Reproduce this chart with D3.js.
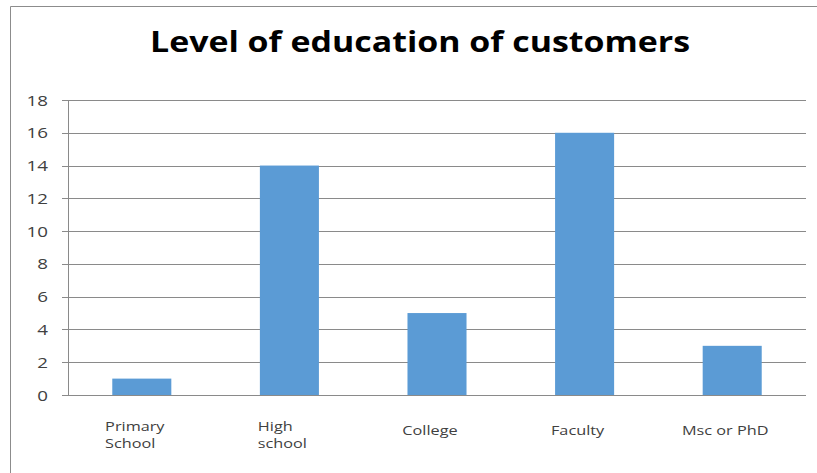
<!DOCTYPE html>
<html>
<head>
<meta charset="utf-8">
<script src="https://cdn.jsdelivr.net/npm/d3@7"></script>
<style>
  html, body { margin: 0; padding: 0; background: #fff; }
  svg { display: block; }
</style>
</head>
<body>
<svg id="chart" width="817" height="473"></svg>
<script>
// Chart data
const categories = ["Primary School", "High school", "College", "Faculty", "Msc or PhD"];
const categoryLabels = [["Primary", "School"], ["High", "school"], ["College"], ["Faculty"], ["Msc or PhD"]];
const customers = [1, 14, 5, 16, 3];
const yTicks = [0, 2, 4, 6, 8, 10, 12, 14, 16, 18];
const chartTitle = "Level of education of customers";

const W = 817, H = 473;
const plot = { left: 68, right: 806, top: 100, bottom: 395 };
const stretch = 1.25; // text is drawn slightly wide

const svg = d3.select("#chart");

// Outer frame (top and left edges)
svg.append("path")
  .attr("d", `M10.5,${H} V6.5 H${W}`)
  .attr("fill", "none")
  .attr("stroke", "#8c8c8c")
  .attr("stroke-width", 1);

const x = d3.scaleBand()
  .domain(categories)
  .range([plot.left, plot.right])
  .paddingInner(0.6)
  .paddingOuter(0.3);

const y = d3.scaleLinear()
  .domain([0, 18])
  .range([plot.bottom, plot.top]);

// Horizontal gridlines with small ticks to the left of the axis
svg.append("g")
  .selectAll("line")
  .data(yTicks)
  .join("line")
  .attr("x1", plot.left - 6)
  .attr("x2", plot.right)
  .attr("y1", d => Math.round(y(d)) + 0.5)
  .attr("y2", d => Math.round(y(d)) + 0.5)
  .attr("stroke", "#8a8a8a")
  .attr("stroke-width", 1);

// Vertical axis line
svg.append("line")
  .attr("x1", plot.left + 0.5).attr("x2", plot.left + 0.5)
  .attr("y1", Math.round(y(18)) + 0.5).attr("y2", Math.round(y(0)) + 0.5)
  .attr("stroke", "#8a8a8a");

// Bars
svg.append("g")
  .selectAll("rect")
  .data(customers)
  .join("rect")
  .attr("x", (d, i) => x(categories[i]))
  .attr("width", x.bandwidth())
  .attr("y", d => y(d))
  .attr("height", d => y(0) - y(d))
  .attr("fill", "#5b9bd5");

// Redraw the baseline over the bars
svg.append("line")
  .attr("x1", plot.left - 6).attr("x2", plot.right)
  .attr("y1", Math.round(y(0)) + 0.5).attr("y2", Math.round(y(0)) + 0.5)
  .attr("stroke", "#8a8a8a");

function widen(sel, factor) {
  sel.each(function () {
    const len = this.getComputedTextLength();
    d3.select(this)
      .attr("textLength", len * factor)
      .attr("lengthAdjust", "spacingAndGlyphs");
  });
}

// Y tick labels
const yLabels = svg.append("g")
  .selectAll("text")
  .data(yTicks)
  .join("text")
  .attr("x", 48)
  .attr("y", d => y(d) + 5.5)
  .attr("text-anchor", "end")
  .attr("font-family", "'Open Sans', sans-serif")
  .attr("font-size", 15)
  .attr("fill", "#404040")
  .text(d => d);
widen(yLabels, stretch);

// Category labels: each label is a left-aligned block centred under its bar
const cat = svg.append("g")
  .selectAll("text")
  .data(categoryLabels)
  .join("text")
  .attr("font-family", "'Open Sans', sans-serif")
  .attr("font-size", 13)
  .attr("fill", "#404040")
  .attr("text-anchor", "start");

cat.each(function (lines, i) {
  const cx = x(categories[i]) + x.bandwidth() / 2 - 7;
  const base = 434.5 - (lines.length - 1) * 4;
  const spans = d3.select(this).selectAll("tspan")
    .data(lines)
    .join("tspan")
    .attr("y", (d, j) => base + j * 17)
    .text(d => d);
  let blockWidth = 0;
  spans.each(function () {
    const len = this.getComputedTextLength() * stretch;
    d3.select(this).attr("textLength", len).attr("lengthAdjust", "spacingAndGlyphs");
    blockWidth = Math.max(blockWidth, len);
  });
  spans.attr("x", cx - blockWidth / 2);
});

// Title
svg.append("text")
  .attr("x", 420)
  .attr("y", 52)
  .attr("text-anchor", "middle")
  .attr("font-family", "'Open Sans', sans-serif")
  .attr("font-weight", "bold")
  .attr("font-size", 29)
  .attr("fill", "#000")
  .attr("textLength", 540)
  .attr("lengthAdjust", "spacingAndGlyphs")
  .text(chartTitle);
</script>
</body>
</html>
